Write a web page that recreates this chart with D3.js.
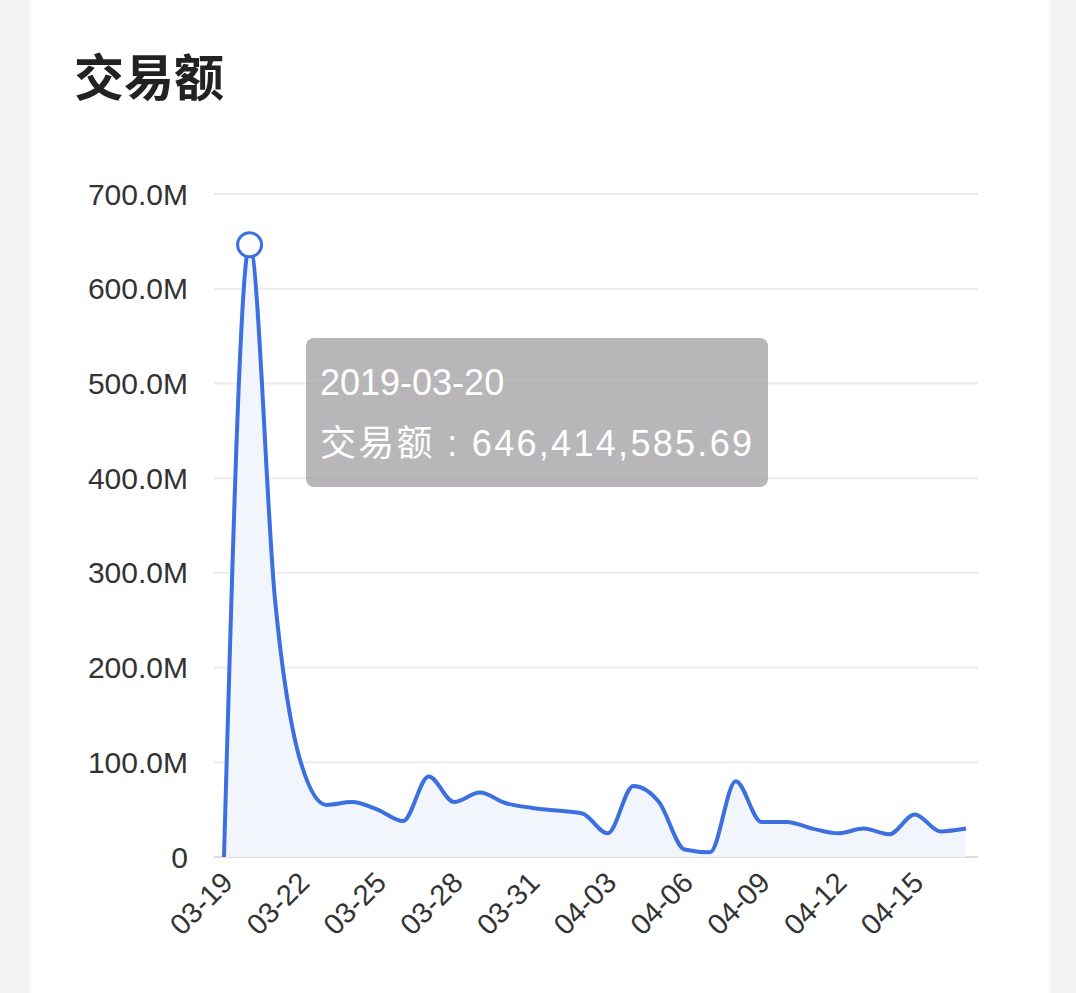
<!DOCTYPE html>
<html><head><meta charset="utf-8">
<script src="https://cdn.jsdelivr.net/npm/d3@7/dist/d3.min.js"></script>
<style>body{margin:0;background:#f4f4f6;}svg{display:block}</style></head>
<body><svg id="c" width="1076" height="993"></svg>
<script>
const dates = ["03-19","03-20","03-21","03-22","03-23","03-24","03-25","03-26","03-27","03-28","03-29","03-30","03-31","04-01","04-02","04-03","04-04","04-05","04-06","04-07","04-08","04-09","04-10","04-11","04-12","04-13","04-14","04-15","04-16","04-17"];
const values = [0,646.41458569,270,100,55,58,50,38,85,58,68,57,52,49,46,25,75,58,8,5,80,37,37,30,25,30,24,45,27,30];
const yTicks = [0,100,200,300,400,500,600,700];
const xTickLabels = ["03-19","03-22","03-25","03-28","03-31","04-03","04-06","04-09","04-12","04-15"];
const tipDate = "2019-03-20", tipLabel = "交易额", tipValue = "646,414,585.69";

const svg = d3.select("#c");
const font = "'Helvetica Neue',Arial,'Liberation Sans','Noto Sans CJK SC',sans-serif";
svg.append("rect").attr("x",30).attr("y",0).attr("width",1020).attr("height",993).attr("fill","#fff");
svg.append("text").attr("x",74).attr("y",96).attr("font-size",50).attr("font-weight","bold")
  .attr("fill","#222").attr("font-family","'Noto Sans CJK SC',sans-serif").text("交易额");

const x = d3.scalePoint().domain(dates).range([224,966]);
const y = d3.scaleLinear().domain([0,700]).range([857,194]);

const g = svg.append("g").attr("font-family",font);
g.selectAll(".grid").data(yTicks).join("line")
  .attr("x1",214).attr("x2",978).attr("y1",d=>y(d)).attr("y2",d=>y(d))
  .attr("stroke",d=>d===0?"#ddd":"#ececf0").attr("stroke-width",2);
g.selectAll(".yl").data(yTicks).join("text")
  .attr("x",188).attr("y",d=>y(d)).attr("dy","0.35em").attr("text-anchor","end")
  .attr("font-size",30).attr("fill","#333").text(d=>d===0?"0":d.toFixed(1)+"M");
g.selectAll(".xl").data(xTickLabels).join("text")
  .attr("transform",d=>`translate(${x(d)-4},${870}) rotate(-45)`)
  .attr("text-anchor","end").attr("dy","0.7em").attr("font-size",29).attr("fill","#333").text(d=>d);

g.append("line").attr("x1",x("03-20")).attr("x2",x("03-20")).attr("y1",y(646.4)+12).attr("y2",857)
  .attr("stroke","#ddd").attr("stroke-width",3).attr("stroke-dasharray","14,10");

const data = dates.map((d,i)=>({d,v:values[i]}));
const curve = d3.curveMonotoneX;
g.append("path").datum(data).attr("fill","#f3f5fc")
  .attr("d",d3.area().x(p=>x(p.d)).y0(y(0)).y1(p=>y(p.v)).curve(curve));
g.append("path").datum(data).attr("fill","none").attr("stroke","#3c6fe0").attr("stroke-width",4)
  .attr("d",d3.line().x(p=>x(p.d)).y(p=>y(p.v)).curve(curve));
g.append("circle").attr("cx",x("03-20")).attr("cy",y(values[1])).attr("r",12)
  .attr("fill","#fff").attr("stroke","#3c6fe0").attr("stroke-width",3);

g.append("rect").attr("x",306).attr("y",338).attr("width",462).attr("height",149).attr("rx",8)
  .attr("fill","rgba(160,158,162,0.75)");
g.append("text").attr("x",320).attr("y",395).attr("font-size",36).attr("fill","#fff").text(tipDate);
g.append("text").attr("x",320).attr("y",456).attr("font-size",36).attr("fill","#fff")
  .attr("textLength",432).text(tipLabel+" : "+tipValue);
</script></body></html>
